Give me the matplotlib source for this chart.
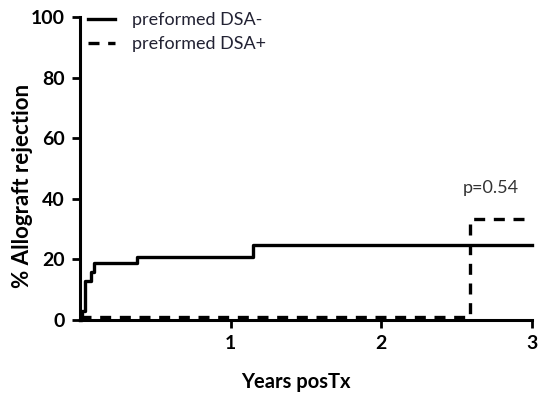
import numpy as np
import matplotlib
matplotlib.use("Agg")
import matplotlib.pyplot as plt

# Kaplan-Meier style step data
dsa_neg_years = [0.0, 0.01, 0.03, 0.07, 0.09, 0.38, 1.15, 3.0]
dsa_neg_pct = [0.0, 3.0, 13.0, 16.0, 18.8, 20.8, 24.7, 24.7]

dsa_pos_years = [0.0, 2.59, 3.0]
dsa_pos_pct = [1.0, 33.3, 33.3]

x_ticks = [1, 2, 3]
y_ticks = [0, 20, 40, 60, 80, 100]

plt.rcParams['font.family'] = ['Lato', 'DejaVu Sans']

fig = plt.figure(figsize=(5.4, 3.99), dpi=100)
ax = fig.add_axes([80 / 540, 1 - 320 / 399, 452 / 540, 303 / 399])

ax.step(dsa_neg_years, dsa_neg_pct, where='post', color='black', lw=2.4,
        label='preformed DSA-', clip_on=False, zorder=3)
ax.step(dsa_pos_years, dsa_pos_pct, where='post', color='black', lw=2.4,
        dashes=(3.3, 2.6), label='preformed DSA+', clip_on=False, zorder=3)

ax.set_xlim(0, 3)
ax.set_ylim(0, 100)
ax.set_xticks(x_ticks)
ax.set_yticks(y_ticks)
for lab in ax.get_xticklabels() + ax.get_yticklabels():
    lab.set_fontweight('bold')
    lab.set_fontsize(14)

for s in ['top', 'right']:
    ax.spines[s].set_visible(False)
for s in ['left', 'bottom']:
    ax.spines[s].set_linewidth(2.2)
ax.tick_params(width=2, length=6, direction='out', pad=5)

ax.set_xlabel('Years posTx', fontsize=14.5, fontweight='bold')
ax.xaxis.set_label_coords(0.478, -0.17)
ax.set_ylabel('% Allograft rejection', fontsize=16, fontweight='bold')
ax.yaxis.set_label_coords(-0.104, 0.442)

ax.text(2.54, 41.9, 'p=0.54', fontsize=13, va='baseline', ha='left', color='#333333')

leg = fig.legend(loc='upper left', bbox_to_anchor=(88 / 540, 1 - 12 / 399), frameon=False,
                 fontsize=13, handlelength=1.5, handletextpad=0.95, labelspacing=0.45,
                 borderpad=0, borderaxespad=0)
for t in leg.get_texts():
    t.set_color('#222233')

fig.savefig('out.png', dpi=100)
